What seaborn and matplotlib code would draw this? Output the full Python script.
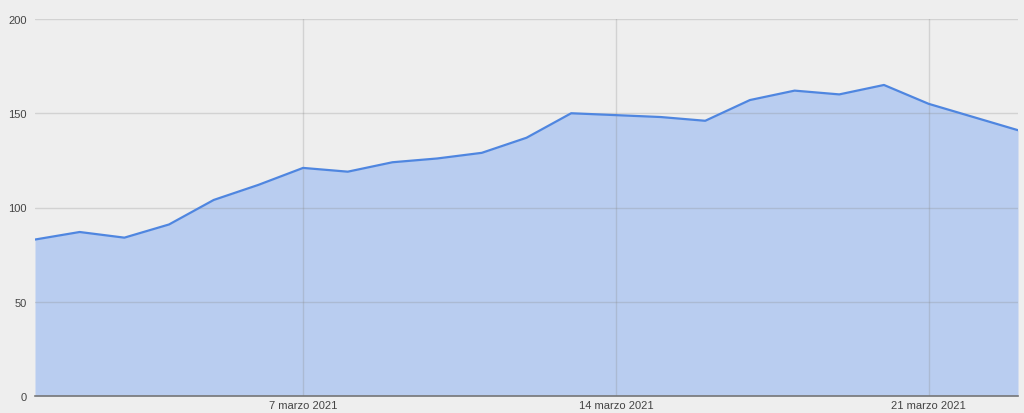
import matplotlib
matplotlib.use("Agg")
import matplotlib.pyplot as plt
import seaborn as sns
import pandas as pd
import numpy as np

dates = pd.date_range("2021-03-01", "2021-03-23", freq="D")
values = [83, 87, 84, 91, 104, 112, 121, 119, 124, 126, 129, 137, 150,
          149, 148, 146, 157, 162, 160, 165, 155, 148, 141]
x_tick_dates = pd.to_datetime(["2021-03-07", "2021-03-14", "2021-03-21"])
x_tick_labels = ["7 marzo 2021", "14 marzo 2021", "21 marzo 2021"]
y_ticks = [0, 50, 100, 150, 200]

df = pd.DataFrame({"date": dates, "value": values})

sns.set_theme(style="white")
plt.rcParams['font.family'] = ['Liberation Sans', 'DejaVu Sans']

bg = "#eeeeee"
fig = plt.figure(figsize=(10.24, 4.14), dpi=100, facecolor=bg)
ax = fig.add_axes([35/1024, 17/414, (1018-35)/1024, (397-20)/414])
ax.set_facecolor(bg)

ax.fill_between(df["date"], df["value"], 0, color="#b9cdf0", linewidth=0, zorder=2)
sns.lineplot(data=df, x="date", y="value", ax=ax, color="#4f86e0", linewidth=1.6, zorder=3)

ax.set_xlim(dates[0], dates[-1])
ax.set_ylim(0, 200)
ax.set_yticks(y_ticks)
ax.set_yticklabels([str(v) for v in y_ticks])
ax.set_xticks(x_tick_dates)
ax.set_xticklabels(x_tick_labels)

ax.grid(True, color="#8a8a8a", linewidth=1.0, zorder=1)
ax.set_axisbelow(False)
for gl in ax.get_xgridlines() + ax.get_ygridlines():
    gl.set_alpha(0.28)
    gl.set_zorder(2.5)
ax.set_xlabel("")
ax.set_ylabel("")
for s in ["top", "right", "left"]:
    ax.spines[s].set_visible(False)
ax.spines["bottom"].set_color("#777777")
ax.spines["bottom"].set_linewidth(1.2)
ax.spines["bottom"].set_zorder(5)
ax.tick_params(axis="both", length=0, labelsize=8, labelcolor="#444444")
ax.tick_params(axis="y", pad=6)
ax.tick_params(axis="x", pad=3)

fig.savefig("out.png", dpi=100, facecolor=bg)
